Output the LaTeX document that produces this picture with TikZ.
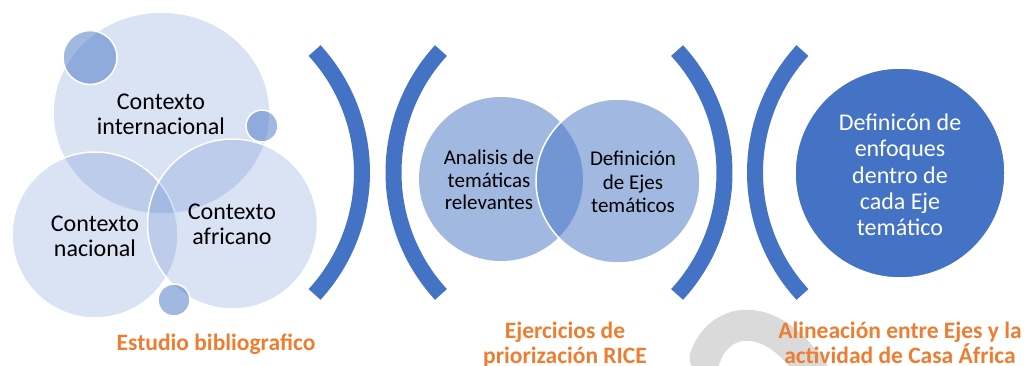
\documentclass[tikz,border=0pt]{standalone}
\usepackage{fontspec}
\usetikzlibrary{shapes.geometric}
\setmainfont{Carlito}
\definecolor{acc}{HTML}{4472C4}
\definecolor{org}{HTML}{ED7D31}
\definecolor{gry}{HTML}{DADADA}
\begin{document}
\begin{tikzpicture}[x=1pt,y=-1pt,
  bigc/.style={circle, draw=white, line width=1.5pt, fill=acc, fill opacity=0.2, inner sep=0pt},
  smallc/.style={circle, draw=white, line width=1.5pt, fill=acc, fill opacity=0.5, inner sep=0pt},
  midc/.style={circle, fill=acc, fill opacity=0.5, inner sep=0pt, minimum size=164pt},
  bracket/.style={draw=acc, line width=16pt, line cap=butt},
  lbl/.style={align=center, inner sep=0pt, text=black},
  olbl/.style={align=center, inner sep=0pt, text=org, font=\bfseries\fontsize{23.5}{25}\selectfont}
]
\useasboundingbox (0,0) rectangle (1027,365);
% left group
\node[bigc, ellipse, minimum width=217pt, minimum height=202pt] (ci) at (161.5,113) {};
\node[bigc, minimum size=166pt] (cn) at (95,235) {};
\node[bigc, minimum size=170pt] (ca) at (232.5,224) {};
\node[smallc, minimum size=54pt] (s1) at (90,57.5) {};
\node[smallc, minimum size=32pt] (s2) at (262,126) {};
\node[smallc, minimum size=32pt] (s3) at (174,300) {};
\node[lbl, font=\fontsize{24}{25}\selectfont] (ti) at (161,114) {Contexto\\internacional};
\node[lbl, font=\fontsize{24}{25}\selectfont] (tn) at (95,236) {Contexto\\nacional};
\node[lbl, font=\fontsize{24}{25}\selectfont] (ta) at (232,224) {Contexto\\africano};
% brackets
\draw[bracket] (181.5,172.5) ++(-42.5:180.5) arc[start angle=-42.5, end angle=42.5, radius=180.5];
\draw[bracket] (574,172.5) ++(137.5:180.5) arc[start angle=137.5, end angle=222.5, radius=180.5];
\draw[bracket] (544,172.5) ++(-42.5:180.5) arc[start angle=-42.5, end angle=42.5, radius=180.5];
\draw[bracket] (935.5,172.5) ++(137.5:180.5) arc[start angle=137.5, end angle=222.5, radius=180.5];
% middle group
\node[midc] (ma) at (501,179) {};
\node[midc, draw=white, line width=1.5pt] (md) at (618,181) {};
\node[lbl, font=\fontsize{21}{22.5}\selectfont] (tma) at (489,180) {Analisis de\\temáticas\\relevantes};
\node[lbl, font=\fontsize{21}{23.5}\selectfont] (tmd) at (633,182) {Definición\\de Ejes\\temáticos};
% right circle
\node[circle, fill=acc, draw=white, line width=1.5pt, minimum size=210pt, inner sep=0pt] (rc) at (900,173) {};
\node[lbl, text=white, font=\fontsize{24}{26.3}\selectfont] (trc) at (900,175) {Definicón de\\enfoques\\dentro de\\cada Eje\\temático};
% gray decoration
\draw[gry, line width=31pt, line cap=round] (705,358) .. controls (718,318) and (770,305) .. (815,375);
% orange labels
\node[olbl, anchor=base] (l1) at (216,350) {Estudio bibliografico};
\node[olbl, anchor=base] (l2) at (565,363) {Ejercicios de\\priorización RICE};
\node[olbl, anchor=base] (l3) at (900,363) {Alineación entre Ejes y la\\actividad de Casa África};
\end{tikzpicture}
\end{document}
